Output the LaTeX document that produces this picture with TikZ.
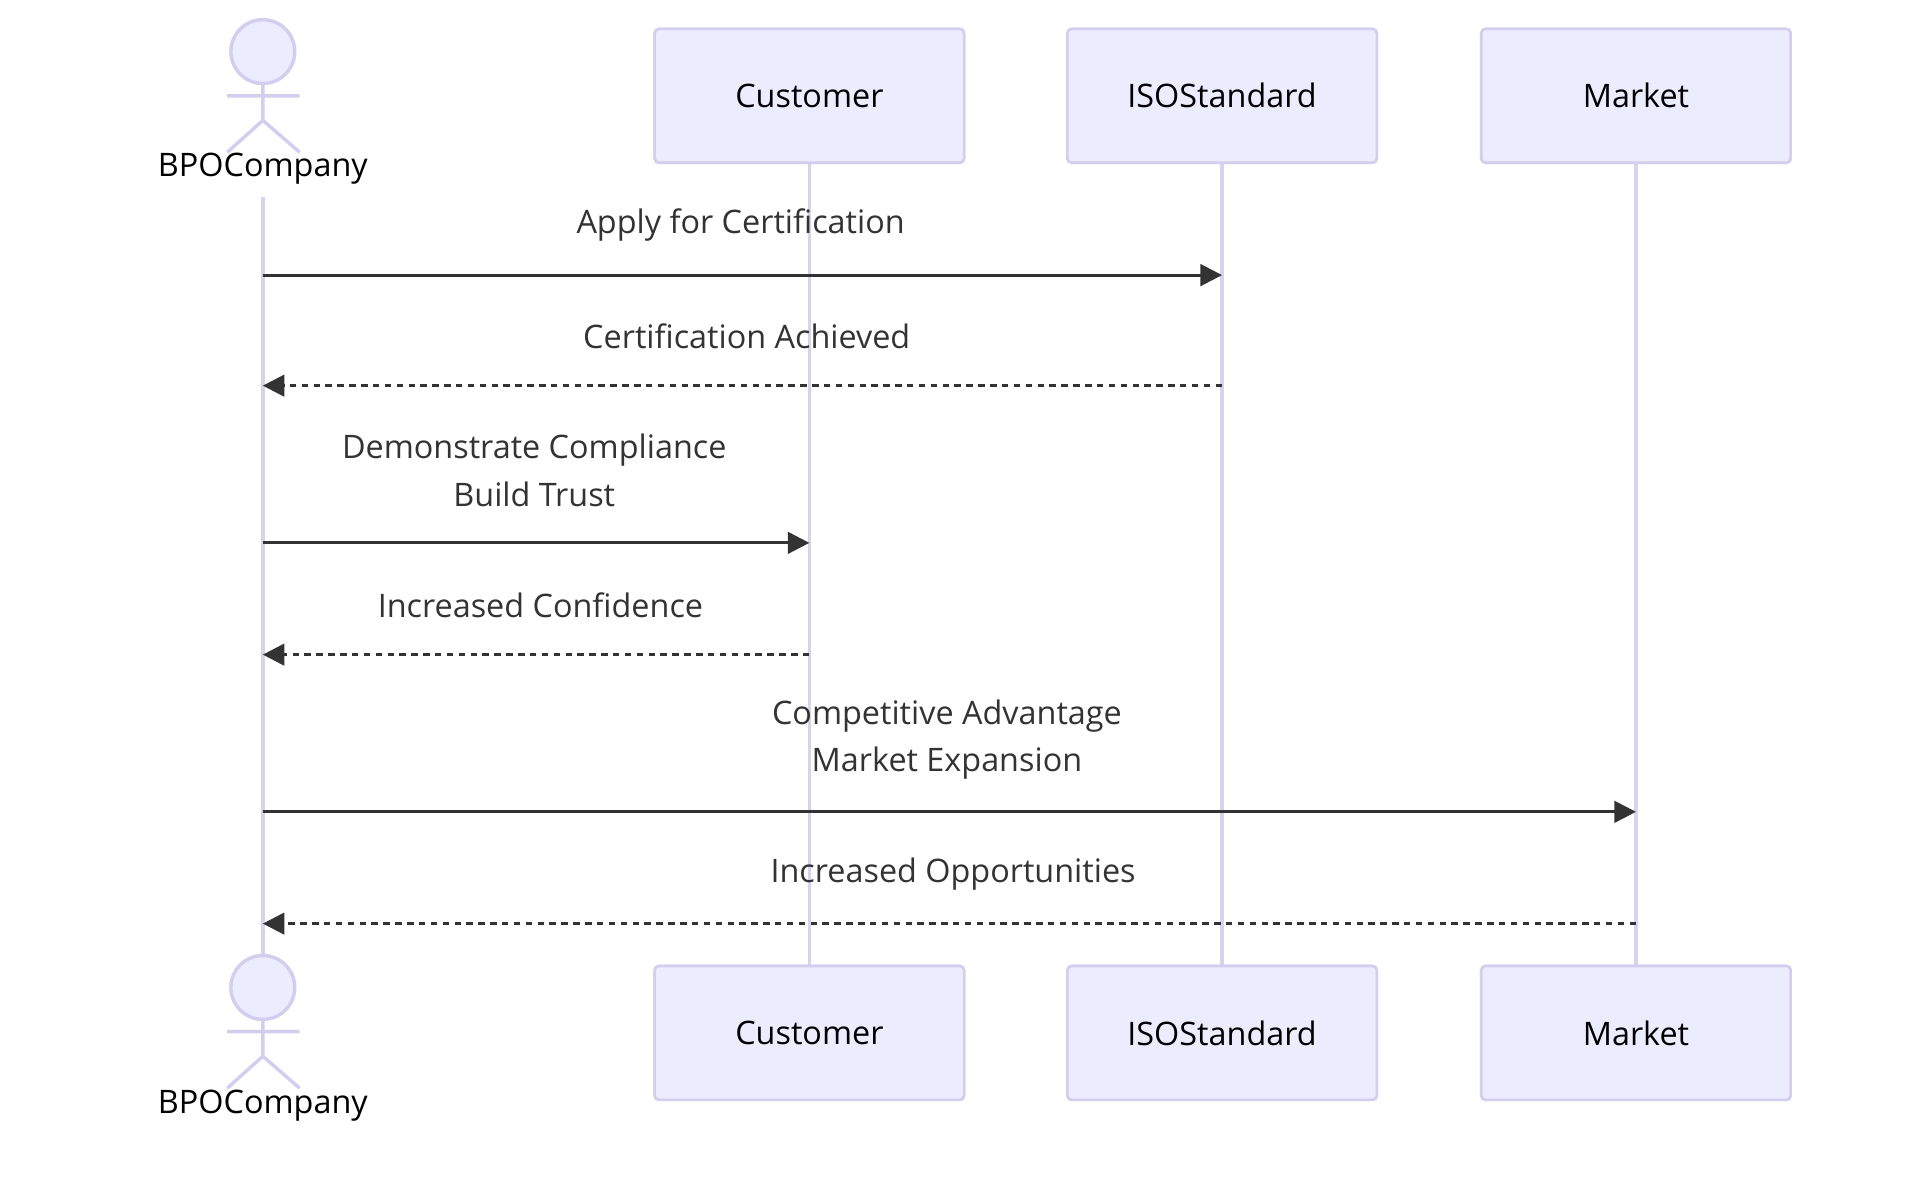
\documentclass[tikz,border=0pt]{standalone}
\usepackage{fontspec}
\setmainfont{Open Sans}
\usetikzlibrary{arrows.meta}
\definecolor{boxfill}{HTML}{ECECFF}
\definecolor{boxline}{HTML}{D3CDEE}
\definecolor{life}{HTML}{D8D2EE}
\definecolor{txt}{HTML}{333333}
\begin{document}
\begin{tikzpicture}[x=0.02cm,y=-0.02cm,
  box/.style={draw=boxline,line width=1.2pt,fill=boxfill,rounded corners=2pt,minimum width=5.04cm,minimum height=2.18cm,font=\fontsize{15}{18}\selectfont,text=black},
  lbl/.style={font=\fontsize{15}{22}\selectfont,text=txt,align=center},
  lifeline/.style={draw=life,line width=1.6pt},
  actorline/.style={draw=boxline,line width=1.6pt},
  msg/.style={draw=txt,line width=1.3pt,-{Triangle[length=10pt,width=10pt]}},
  ret/.style={msg,dash pattern=on 3pt off 2.5pt}]
\useasboundingbox (0,0) rectangle (1560,970);
% lifelines
\coordinate (a1) at (214,160); \coordinate (a2) at (214,780);
\node[box] (c1) at (659,78) {Customer};
\node[box] (i1) at (995,78) {ISOStandard};
\node[box] (m1) at (1332,78) {Market};
\node[box] (c2) at (659,841) {Customer};
\node[box] (i2) at (995,841) {ISOStandard};
\node[box] (m2) at (1332,841) {Market};
\draw[lifeline] (a1) -- (a2);
\draw[lifeline] (c1.south) -- (c2.north);
\draw[lifeline] (i1.south) -- (i2.north);
\draw[lifeline] (m1.south) -- (m2.north);
\draw[box] (c1.center) node[box] {Customer};
\draw[box] (i1.center) node[box] {ISOStandard};
\draw[box] (m1.center) node[box] {Market};
\draw[box] (c2.center) node[box] {Customer};
\draw[box] (i2.center) node[box] {ISOStandard};
\draw[box] (m2.center) node[box] {Market};
% actors
\foreach \y/\n in {0/at,762/ab}{
  \draw[actorline,fill=boxfill] (214,42+\y) circle (26);
  \draw[actorline] (214,68+\y) -- (214,98+\y) (185,78+\y) -- (244,78+\y)
    (185,124+\y) -- (214,98+\y) -- (244,124+\y);
}
\node[lbl,text=black] (bt) at (214,137) {BPOCompany};
\node[lbl,text=black] (bb) at (214,900) {BPOCompany};
% message anchors
\coordinate (s1) at (214,224); \coordinate (e1) at (995,224);
\coordinate (s2) at (995,314); \coordinate (e2) at (214,314);
\coordinate (s3) at (214,442); \coordinate (e3) at (659,442);
\coordinate (s4) at (659,533); \coordinate (e4) at (214,533);
\coordinate (s5) at (214,661); \coordinate (e5) at (1332,661);
\coordinate (s6) at (1332,752); \coordinate (e6) at (214,752);
\draw[msg] (s1) -- (e1);
\draw[ret] (s2) -- (e2);
\draw[msg] (s3) -- (e3);
\draw[ret] (s4) -- (e4);
\draw[msg] (s5) -- (e5);
\draw[ret] (s6) -- (e6);
\node[lbl] (l1) at (603,183) {Apply for Certification};
\node[lbl] (l2) at (608,274) {Certification Achieved};
\node[lbl] (l3) at (435,383) {Demonstrate Compliance\\Build Trust};
\node[lbl] (l4) at (440,493) {Increased Confidence};
\node[lbl] (l5) at (771,602) {Competitive Advantage\\Market Expansion};
\node[lbl] (l6) at (776,712) {Increased Opportunities};
\end{tikzpicture}
\end{document}
